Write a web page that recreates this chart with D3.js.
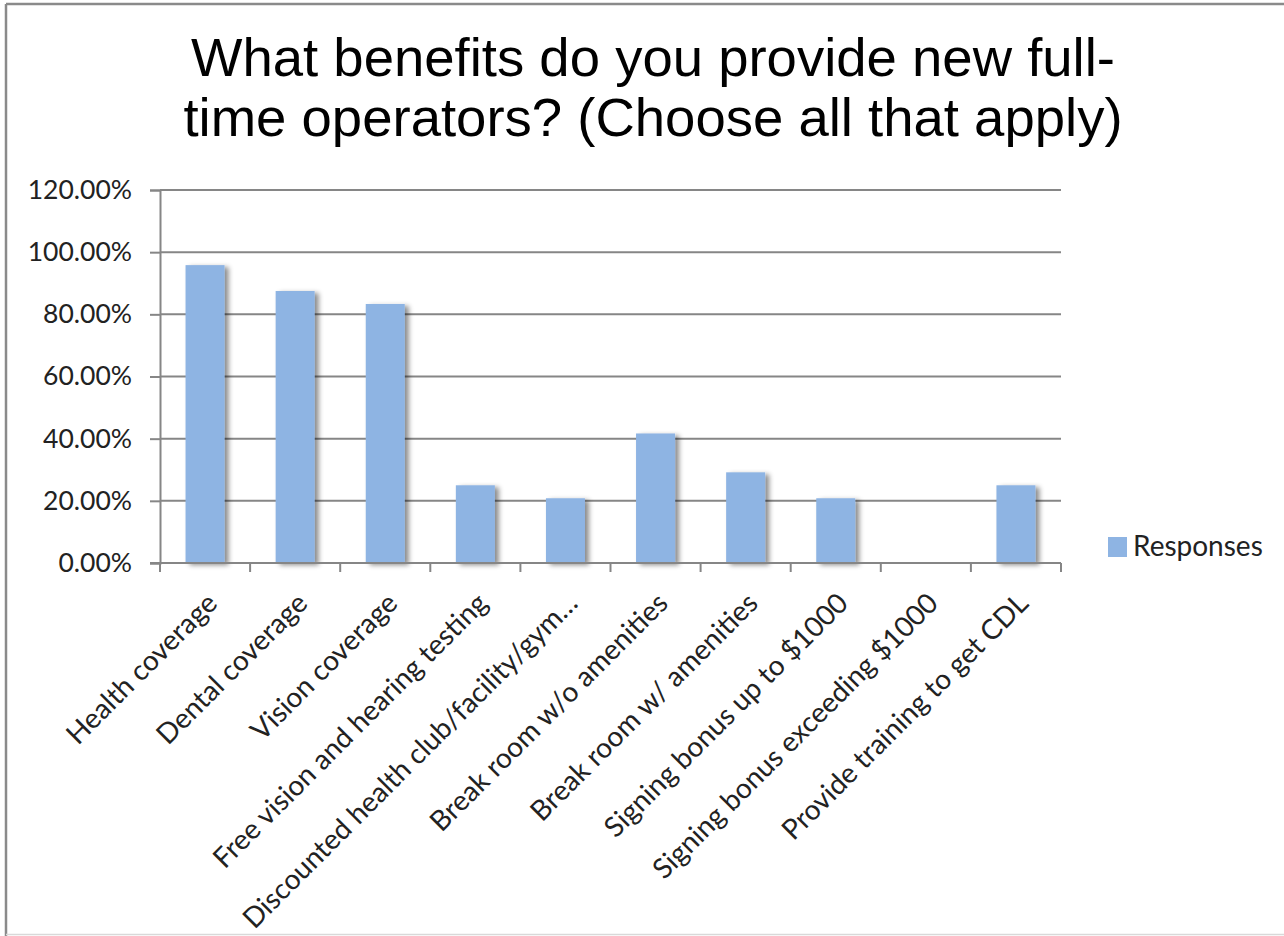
<!DOCTYPE html>
<html>
<head>
<meta charset="utf-8">
<script src="https://cdn.jsdelivr.net/npm/d3@7"></script>
<style>
  html, body { margin: 0; padding: 0; background: #fff; }
  svg { display: block; }
</style>
</head>
<body>
<svg id="chart" width="1284" height="936"></svg>
<script>
// Survey: benefits offered to new full-time operators
const categories = [
  "Health coverage",
  "Dental coverage",
  "Vision coverage",
  "Free vision and hearing testing",
  "Discounted health club/facility/gym…",
  "Break room w/o amenities",
  "Break room w/ amenities",
  "Signing bonus up to $1000",
  "Signing bonus exceeding $1000",
  "Provide training to get CDL"
];
const responses = [0.9583, 0.875, 0.8333, 0.25, 0.2083, 0.4167, 0.2917, 0.2083, 0, 0.25];
const yTicks = [0, 0.2, 0.4, 0.6, 0.8, 1.0, 1.2];
const titleLines = ["What benefits do you provide new full-", "time operators? (Choose all that apply)"];
const seriesName = "Responses";

const svg = d3.select("#chart");
const W = 1284, H = 936;
const plot = { left: 160, right: 1061, top: 190, bottom: 563 };
const barColor = "#8eb4e3";
const axisColor = "#868686";
const labelFont = "Lato, 'Open Sans', sans-serif";

// outer frame: strong top and left edges, faint bottom edge
svg.append("line").attr("x1", 6).attr("x2", W).attr("y1", 4).attr("y2", 4)
  .attr("stroke", "#8a8a8a").attr("stroke-width", 2.5);
svg.append("line").attr("x1", 6).attr("x2", 6).attr("y1", 4).attr("y2", H)
  .attr("stroke", "#8a8a8a").attr("stroke-width", 2.5);
svg.append("line").attr("x1", 6).attr("x2", W).attr("y1", H - 1.5).attr("y2", H - 1.5)
  .attr("stroke", "#d9d9d9").attr("stroke-width", 1.5);

// soft shadow for the columns
const defs = svg.append("defs");
const f = defs.append("filter").attr("id", "colShadow")
  .attr("x", "-20%").attr("y", "-10%").attr("width", "160%").attr("height", "130%");
f.append("feDropShadow")
  .attr("dx", 4).attr("dy", 2).attr("stdDeviation", 2.5)
  .attr("flood-color", "#000").attr("flood-opacity", 0.45);

// title
svg.append("text")
  .attr("x", 653).attr("y", 76)
  .attr("text-anchor", "middle")
  .attr("font-family", "'Liberation Sans', Arial, sans-serif")
  .attr("font-size", 54.5)
  .attr("fill", "#000")
  .selectAll("tspan").data(titleLines).join("tspan")
  .attr("x", 653)
  .attr("dy", (d, i) => i === 0 ? 0 : 60)
  .text(d => d);

const x = d3.scaleBand()
  .domain(categories)
  .range([plot.left, plot.right])
  .paddingInner(0.567)
  .paddingOuter(0.567 / 2);

const y = d3.scaleLinear()
  .domain([0, 1.2])
  .range([plot.bottom, plot.top]);

// horizontal gridlines
svg.append("g")
  .selectAll("line").data(yTicks.filter(t => t > 0)).join("line")
  .attr("x1", plot.left).attr("x2", plot.right)
  .attr("y1", d => y(d)).attr("y2", d => y(d))
  .attr("stroke", axisColor).attr("stroke-width", 2);

// value axis
const yAxis = svg.append("g")
  .attr("transform", `translate(${plot.left},0)`)
  .call(d3.axisLeft(y).tickValues(yTicks).tickFormat(d3.format(".2%")).tickSize(10).tickPadding(18));
yAxis.select(".domain").attr("stroke", axisColor).attr("stroke-width", 2);
yAxis.selectAll(".tick line").attr("stroke", axisColor).attr("stroke-width", 2);
yAxis.selectAll(".tick text")
  .attr("font-family", labelFont).attr("font-size", 26.5).attr("fill", "#222");

// columns
svg.append("g")
  .selectAll("rect").data(categories.map((c, i) => ({ c, v: responses[i] })).filter(d => d.v > 0)).join("rect")
  .attr("x", d => x(d.c))
  .attr("y", d => y(d.v))
  .attr("width", x.bandwidth())
  .attr("height", d => y(0) - y(d.v))
  .attr("fill", barColor)
  .attr("filter", "url(#colShadow)");

// category axis
const step = x.step();
const boundaries = d3.range(categories.length + 1).map(i => plot.left + i * step);
svg.append("g")
  .selectAll("line").data(boundaries).join("line")
  .attr("x1", d => d).attr("x2", d => d)
  .attr("y1", plot.bottom).attr("y2", plot.bottom + 9)
  .attr("stroke", axisColor).attr("stroke-width", 2);
svg.append("line")
  .attr("x1", plot.left - 10).attr("x2", plot.right)
  .attr("y1", plot.bottom).attr("y2", plot.bottom)
  .attr("stroke", axisColor).attr("stroke-width", 2);

svg.append("g")
  .selectAll("text").data(categories).join("text")
  .attr("transform", d => `translate(${x(d) + x.bandwidth() / 2 + 14},605) rotate(-45)`)
  .attr("text-anchor", "end")
  .attr("font-family", labelFont).attr("font-size", 28).attr("fill", "#222")
  .text(d => d);

// legend
const lg = svg.append("g").attr("transform", "translate(1108,537)");
lg.append("rect").attr("width", 19).attr("height", 20).attr("fill", barColor);
lg.append("text")
  .attr("x", 25).attr("y", 19)
  .attr("font-family", labelFont).attr("font-size", 28).attr("fill", "#222")
  .text(seriesName);
</script>
</body>
</html>
